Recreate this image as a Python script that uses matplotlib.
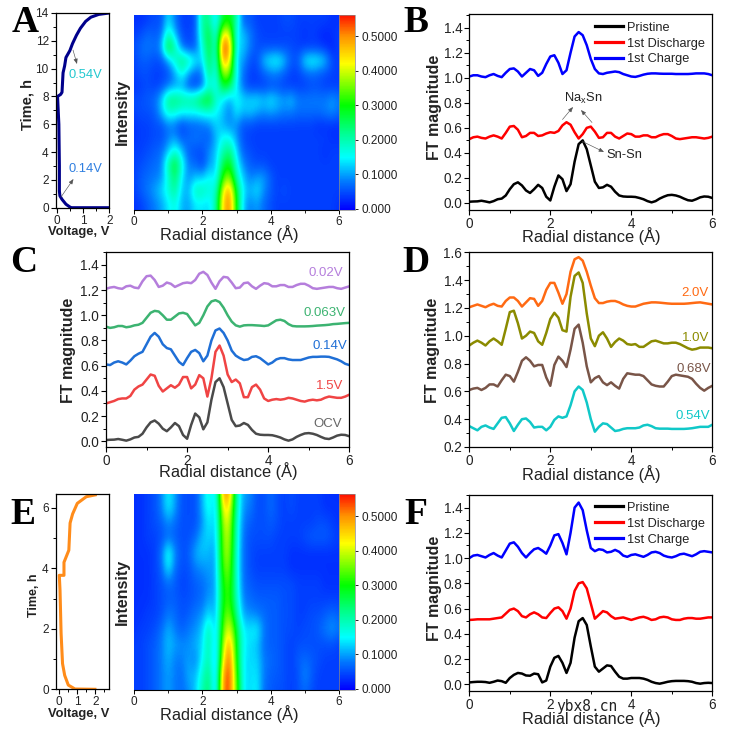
import matplotlib
matplotlib.use("Agg")
import matplotlib.pyplot as plt
import numpy as np
from matplotlib.colors import LinearSegmentedColormap, Normalize
from matplotlib.lines import Line2D
from matplotlib.ticker import MultipleLocator

plt.rcParams["font.family"] = ["Liberation Sans", "DejaVu Sans"]
plt.rcParams["mathtext.default"] = "regular"

W, H = 734, 736
TXT = "#222222"

# ---- data ----
r = [i / 10 for i in range(61)]

pristine_b = [.01,.012,.013,.018,.012,.005,.015,.03,.035,.06,.11,.15,.165,.14,.10,.08,.11,.145,.12,.05,.02,.13,.22,.19,.095,.15,.33,.47,.50,.43,.30,.17,.12,.125,.145,.13,.09,.06,.052,.05,.05,.048,.04,.03,.015,.005,.015,.035,.05,.062,.065,.06,.05,.035,.022,.018,.03,.045,.052,.05,.04]
discharge_b = [.51,.525,.53,.52,.515,.53,.54,.53,.515,.56,.61,.615,.585,.525,.535,.56,.56,.535,.54,.555,.565,.56,.575,.62,.645,.625,.565,.515,.55,.60,.61,.57,.52,.525,.56,.56,.53,.515,.535,.555,.55,.53,.53,.54,.54,.525,.525,.54,.55,.55,.535,.515,.51,.515,.52,.525,.525,.52,.515,.52,.53]
charge_b = [1.01,1.02,1.02,1.01,1.005,1.02,1.03,1.015,1.005,1.04,1.07,1.075,1.05,1.01,1.04,1.07,1.06,1.015,1.04,1.11,1.17,1.18,1.12,1.03,1.06,1.2,1.33,1.365,1.34,1.26,1.15,1.07,1.035,1.03,1.04,1.045,1.05,1.045,1.03,1.02,1.01,1.007,1.015,1.025,1.032,1.035,1.035,1.033,1.032,1.032,1.032,1.03,1.03,1.03,1.03,1.032,1.035,1.035,1.035,1.03,1.02]

ocv_c = pristine_b
v15_c = [.30,.31,.32,.335,.34,.34,.36,.41,.435,.45,.49,.53,.52,.44,.395,.42,.445,.425,.45,.51,.51,.42,.45,.525,.50,.355,.50,.71,.76,.68,.53,.47,.49,.46,.35,.35,.43,.45,.41,.34,.32,.33,.335,.33,.335,.345,.34,.33,.32,.315,.325,.33,.325,.33,.345,.355,.35,.345,.345,.355,.37]
v014_c = [.61,.605,.625,.635,.625,.61,.64,.675,.695,.71,.77,.83,.86,.83,.77,.74,.73,.68,.63,.605,.66,.71,.725,.70,.635,.68,.80,.88,.895,.86,.80,.72,.68,.66,.645,.65,.67,.675,.66,.635,.61,.625,.65,.66,.66,.65,.645,.645,.645,.655,.665,.67,.67,.672,.672,.67,.66,.65,.635,.615,.605]
v0063_c = [.91,.90,.905,.915,.915,.905,.91,.92,.925,.94,.98,1.02,1.035,1.03,1.0,.965,.965,.99,1.015,1.02,1.01,.965,.92,.94,1.0,1.07,1.11,1.12,1.105,1.06,1.0,.95,.92,.91,.92,.922,.922,.92,.918,.915,.92,.94,.96,.965,.955,.93,.915,.912,.912,.912,.913,.915,.918,.92,.922,.925,.93,.932,.935,.938,.94]
v002_c = [1.21,1.22,1.225,1.215,1.21,1.23,1.235,1.22,1.215,1.27,1.31,1.315,1.28,1.225,1.235,1.26,1.25,1.225,1.24,1.255,1.26,1.255,1.28,1.33,1.345,1.32,1.26,1.21,1.27,1.305,1.30,1.26,1.215,1.22,1.255,1.26,1.23,1.21,1.235,1.255,1.25,1.23,1.23,1.24,1.24,1.225,1.225,1.24,1.25,1.25,1.235,1.215,1.21,1.215,1.22,1.225,1.225,1.215,1.21,1.22,1.23]

v054_d = [.35,.335,.32,.345,.355,.34,.33,.37,.41,.415,.37,.315,.36,.40,.405,.38,.34,.345,.345,.32,.345,.395,.42,.41,.42,.50,.60,.635,.61,.52,.40,.31,.345,.37,.365,.34,.315,.32,.33,.335,.335,.335,.34,.355,.36,.35,.335,.332,.332,.332,.33,.33,.33,.33,.332,.335,.34,.345,.345,.345,.36]
v068_d = [.61,.62,.625,.61,.625,.65,.65,.635,.68,.72,.71,.67,.74,.82,.845,.82,.78,.79,.79,.70,.64,.79,.85,.82,.775,.90,1.05,1.08,.95,.78,.665,.695,.71,.665,.645,.665,.64,.62,.69,.73,.725,.72,.72,.71,.68,.65,.64,.635,.635,.67,.71,.72,.715,.71,.705,.69,.655,.625,.605,.625,.64]
v10_d = [.93,.95,.965,.95,.93,.96,.98,.96,.935,1.05,1.17,1.18,1.09,.98,1.0,1.03,1.02,.96,.935,1.02,1.12,1.165,1.13,1.04,1.03,1.28,1.43,1.455,1.38,1.16,.98,.925,1.0,1.025,.98,.92,.955,.98,.965,.94,.935,.94,.92,.92,.94,.96,.965,.955,.945,.945,.95,.95,.94,.925,.91,.90,.905,.915,.915,.915,.91]
v20_d = [1.205,1.215,1.225,1.215,1.205,1.22,1.23,1.215,1.21,1.25,1.275,1.275,1.25,1.21,1.24,1.27,1.265,1.215,1.25,1.33,1.38,1.38,1.31,1.23,1.30,1.46,1.55,1.565,1.54,1.46,1.36,1.27,1.235,1.235,1.245,1.25,1.25,1.24,1.225,1.215,1.21,1.21,1.22,1.23,1.235,1.24,1.24,1.238,1.235,1.232,1.23,1.23,1.23,1.23,1.232,1.235,1.238,1.24,1.235,1.23,1.225]

pristine_f = [.015,.018,.02,.02,.018,.012,.02,.03,.025,.012,.05,.075,.09,.085,.07,.068,.085,.08,.015,.03,.14,.21,.225,.17,.09,.17,.37,.50,.525,.47,.30,.14,.10,.125,.15,.145,.10,.06,.045,.045,.05,.05,.05,.045,.035,.02,.01,.005,.012,.02,.025,.027,.027,.027,.025,.02,.01,.005,.01,.012,.01]
discharge_f = [.51,.512,.515,.515,.515,.515,.52,.525,.53,.56,.59,.60,.58,.54,.53,.555,.57,.555,.53,.525,.565,.60,.61,.58,.52,.60,.74,.80,.81,.76,.64,.52,.55,.58,.57,.54,.52,.525,.53,.52,.51,.52,.53,.535,.525,.51,.515,.53,.535,.53,.515,.51,.51,.52,.525,.525,.52,.52,.525,.53,.53]
charge_f = [1.0,1.02,1.025,1.015,1.005,1.025,1.04,1.02,1.005,1.06,1.115,1.125,1.09,1.04,1.005,1.04,1.07,1.08,1.06,1.035,1.10,1.18,1.19,1.12,1.03,1.20,1.40,1.44,1.38,1.22,1.08,1.055,1.07,1.065,1.045,1.05,1.065,1.05,1.02,1.01,1.025,1.03,1.02,1.01,1.025,1.045,1.05,1.04,1.02,1.01,1.005,1.015,1.03,1.035,1.025,1.015,1.03,1.05,1.055,1.05,1.045]

volt_a = [2.0,0.55,0.5,0.35,0.2,0.12,0.1,0.1,0.08,0.03,0.15,0.2,0.22,0.24,0.3,0.35,0.5,0.6,0.75,0.9,1.1,1.3,1.6,2.0]
time_a = [0.0,0.0,0.05,0.25,0.6,0.85,1.2,3.0,6.0,8.0,8.15,8.3,9.0,9.7,10.2,10.8,11.3,11.8,12.4,12.9,13.4,13.7,13.9,14.0]
volt_e = [1.98,0.87,0.5,0.3,0.18,0.1,0.04,0.0,0.26,0.26,0.53,0.6,0.74,1.0,1.5,2.0]
time_e = [0.0,0.01,0.14,0.46,0.85,1.85,3.28,3.77,3.77,4.2,4.6,5.5,5.8,6.15,6.37,6.43]

heat_r = [i * 0.2 for i in range(31)]
heat_a_t = list(range(14, -1, -1))
heat_a = [
    # r: 0   .2   .4   .6   .8   1.0  1.2  1.4  1.6  1.8  2.0  2.2  2.4  2.6  2.8  3.0  3.2  3.4  3.6  3.8  4.0  4.2  4.4  4.6  4.8  5.0  5.2  5.4  5.6  5.8  6.0
    [.03,.03,.04,.05,.05,.14,.08,.04,.04,.05,.22,.22,.12,.28,.30,.20,.06,.06,.04,.04,.04,.04,.05,.05,.04,.04,.04,.04,.04,.03,.03],
    [.04,.05,.07,.06,.07,.20,.12,.05,.04,.06,.20,.28,.14,.45,.42,.14,.12,.08,.05,.04,.04,.04,.04,.04,.04,.03,.04,.03,.02,.03,.04],
    [.05,.07,.08,.07,.10,.30,.20,.08,.05,.06,.16,.28,.15,.56,.50,.14,.12,.08,.05,.05,.05,.05,.05,.05,.04,.04,.04,.04,.03,.02,.04],
    [.04,.06,.06,.05,.05,.10,.18,.24,.20,.15,.12,.27,.14,.50,.45,.12,.10,.05,.05,.12,.15,.16,.12,.06,.06,.14,.16,.15,.12,.05,.04],
    [.04,.05,.05,.04,.04,.05,.10,.17,.10,.06,.08,.24,.14,.38,.36,.15,.07,.04,.04,.06,.08,.08,.06,.04,.04,.06,.07,.06,.05,.04,.04],
    [.03,.04,.05,.04,.05,.08,.10,.10,.05,.04,.07,.17,.14,.28,.25,.14,.07,.04,.04,.04,.05,.05,.04,.04,.04,.04,.05,.05,.04,.04,.04],
    [.05,.05,.06,.07,.12,.23,.24,.22,.22,.23,.28,.30,.18,.14,.10,.16,.13,.13,.14,.12,.14,.12,.10,.12,.08,.08,.08,.08,.08,.10,.08],
    [.04,.05,.05,.06,.11,.18,.17,.15,.15,.15,.16,.17,.15,.12,.08,.14,.11,.12,.10,.09,.10,.09,.08,.08,.07,.07,.07,.07,.08,.09,.07],
    [.03,.04,.04,.05,.05,.08,.07,.04,.06,.06,.07,.08,.13,.11,.09,.09,.05,.05,.04,.04,.04,.04,.04,.04,.04,.04,.04,.03,.03,.03,.03],
    [.03,.04,.04,.05,.05,.08,.10,.06,.07,.08,.07,.06,.11,.16,.16,.10,.05,.04,.04,.04,.04,.04,.04,.04,.04,.04,.04,.04,.04,.03,.03],
    [.04,.04,.05,.06,.07,.12,.18,.12,.06,.05,.05,.09,.12,.20,.24,.13,.06,.05,.04,.04,.04,.04,.04,.04,.04,.04,.04,.04,.03,.04,.04],
    [.04,.05,.06,.07,.08,.20,.29,.17,.08,.07,.04,.10,.12,.26,.30,.16,.09,.06,.05,.05,.04,.04,.04,.04,.04,.04,.04,.04,.04,.04,.04],
    [.04,.06,.07,.08,.09,.17,.25,.14,.09,.12,.12,.16,.13,.32,.38,.20,.12,.08,.10,.10,.06,.04,.04,.04,.04,.04,.04,.04,.04,.04,.04],
    [.04,.06,.08,.10,.13,.17,.22,.12,.11,.20,.20,.17,.17,.42,.50,.27,.14,.11,.14,.09,.06,.04,.05,.04,.04,.04,.04,.04,.04,.04,.04],
    [.03,.04,.06,.08,.10,.14,.17,.11,.10,.14,.14,.13,.20,.45,.52,.30,.12,.08,.10,.07,.05,.04,.04,.04,.04,.04,.04,.04,.04,.04,.03],
]
heat_e_t = [6.5 - 0.5 * i for i in range(14)]
heat_e = [
    # r: 0   .2   .4   .6   .8   1.0  1.2  1.4  1.6  1.8  2.0  2.2  2.4  2.6  2.8  3.0  3.2  3.4  3.6  3.8  4.0  4.2  4.4  4.6  4.8  5.0  5.2  5.4  5.6  5.8  6.0
    [.03,.03,.04,.05,.08,.15,.10,.05,.05,.05,.11,.18,.11,.50,.50,.20,.10,.09,.05,.05,.07,.05,.04,.05,.04,.04,.04,.04,.03,.03,.03],
    [.03,.03,.04,.05,.08,.15,.10,.05,.05,.05,.11,.17,.11,.44,.44,.20,.09,.08,.05,.05,.07,.05,.04,.05,.04,.04,.04,.04,.03,.03,.03],
    [.03,.03,.04,.05,.06,.09,.07,.05,.05,.05,.09,.15,.11,.39,.41,.18,.08,.06,.05,.05,.06,.05,.04,.04,.04,.04,.04,.05,.05,.04,.03],
    [.03,.03,.04,.04,.05,.07,.06,.05,.05,.07,.12,.13,.11,.37,.39,.18,.07,.05,.05,.05,.05,.04,.04,.04,.04,.05,.06,.06,.06,.05,.04],
    [.03,.03,.03,.04,.07,.18,.09,.05,.06,.11,.12,.11,.10,.36,.38,.17,.07,.05,.04,.04,.04,.04,.04,.03,.03,.03,.03,.03,.03,.03,.03],
    [.03,.03,.03,.04,.06,.15,.07,.05,.05,.08,.09,.10,.10,.34,.36,.17,.07,.05,.04,.04,.04,.04,.04,.03,.03,.03,.03,.03,.03,.03,.03],
    [.03,.03,.03,.04,.05,.07,.06,.04,.05,.06,.07,.09,.10,.31,.34,.18,.07,.06,.05,.05,.05,.05,.05,.05,.04,.04,.04,.04,.03,.03,.03],
    [.03,.03,.03,.04,.05,.06,.06,.05,.05,.06,.07,.10,.10,.30,.33,.19,.08,.07,.06,.06,.06,.06,.05,.05,.04,.04,.04,.04,.04,.04,.04],
    [.03,.03,.04,.04,.05,.08,.07,.05,.06,.08,.09,.14,.10,.32,.36,.22,.10,.09,.08,.07,.06,.06,.05,.05,.04,.04,.05,.05,.06,.07,.06],
    [.03,.04,.04,.05,.07,.11,.08,.06,.08,.09,.12,.21,.10,.34,.43,.27,.14,.14,.15,.08,.06,.06,.05,.05,.04,.05,.05,.06,.08,.10,.08],
    [.04,.04,.05,.06,.08,.12,.10,.09,.09,.11,.13,.22,.09,.38,.50,.29,.15,.13,.12,.07,.06,.06,.05,.04,.05,.05,.05,.05,.05,.05,.04],
    [.04,.04,.05,.06,.08,.11,.08,.08,.10,.08,.15,.21,.08,.42,.54,.30,.14,.13,.13,.08,.07,.06,.05,.04,.06,.07,.06,.05,.04,.04,.04],
    [.04,.04,.05,.06,.08,.10,.08,.07,.11,.11,.18,.24,.08,.50,.55,.33,.14,.13,.14,.08,.06,.06,.05,.04,.05,.09,.06,.04,.04,.04,.04],
    [.04,.04,.05,.06,.08,.10,.08,.07,.09,.12,.20,.25,.08,.52,.54,.35,.14,.13,.15,.07,.06,.05,.05,.04,.05,.07,.05,.04,.04,.04,.04],
]

bar_ticks = [0.0, 0.1, 0.2, 0.3, 0.4, 0.5]
bar_labels = ["0.000", "0.1000", "0.2000", "0.3000", "0.4000", "0.5000"]

heat_cmap = LinearSegmentedColormap.from_list(
    "eh",
    [(0.0, "#0000ff"), (0.08 / 0.56, "#0078ff"), (0.15 / 0.56, "#00ffff"),
     (0.22 / 0.56, "#00ff90"), (0.30 / 0.56, "#00ff00"), (0.42 / 0.56, "#ffff00"),
     (0.50 / 0.56, "#ff9000"), (1.0, "#ff1000")],
)


def add_ax(fig, left, top, right, bottom):
    """Axes placed with pixel edges of the reference (y counted from the top)."""
    return fig.add_axes([left / W, 1 - bottom / H, (right - left) / W, (bottom - top) / H])


def px(x, y):
    return x / W, 1 - y / H


def put(fig, x, y, s, **kw):
    kw.setdefault("ha", "center")
    kw.setdefault("va", "center")
    kw.setdefault("color", TXT)
    fig.text(*px(x, y), s, **kw)


def arrow(ax, tip, tail):
    ax.annotate("", xy=px(*tip), xytext=px(*tail), xycoords="figure fraction",
                textcoords="figure fraction",
                arrowprops=dict(arrowstyle="-|>,head_width=0.12,head_length=0.3",
                                color="#555555", lw=0.45, shrinkA=0, shrinkB=0))


def style_ax(ax, xmaj, xmin, ymaj, ymin, size=9.5):
    ax.xaxis.set_major_locator(MultipleLocator(xmaj))
    ax.xaxis.set_minor_locator(MultipleLocator(xmin))
    ax.yaxis.set_major_locator(MultipleLocator(ymaj))
    ax.yaxis.set_minor_locator(MultipleLocator(ymin))
    ax.tick_params(which="major", length=3.5, width=0.8, labelsize=size, pad=1.5, labelcolor=TXT)
    ax.tick_params(which="minor", length=2, width=0.7)
    for s in ax.spines.values():
        s.set_linewidth(0.9)


def ft_panel(fig, box, curves, ylim, ymaj=0.2):
    ax = add_ax(fig, *box)
    for vals, col in curves:
        ax.plot(r, vals, color=col, lw=1.8, solid_joinstyle="round")
    ax.set_xlim(0, 6)
    ax.set_ylim(*ylim)
    style_ax(ax, 2, 1, ymaj, ymaj / 2, size=9.8)
    ax.yaxis.set_major_formatter(lambda v, _: f"{v:.1f}")
    return ax


def heat_panel(fig, box, bar_box, grid, tvals):
    ax = add_ax(fig, *box)
    norm = Normalize(-0.003, 0.563)
    step_t = abs(tvals[0] - tvals[1])
    im = ax.imshow(grid, cmap=heat_cmap, norm=norm, aspect="auto", interpolation="bicubic",
                   extent=[heat_r[0] - 0.1, heat_r[-1] + 0.1,
                           tvals[-1] - step_t / 2, tvals[0] + step_t / 2])
    ax.set_xlim(0, 6)
    ax.set_yticks([])
    ax.set_xticks([0, 2, 4, 6])
    ax.xaxis.set_minor_locator(MultipleLocator(1))
    ax.tick_params(which="major", length=3, width=0.7, labelsize=8.5, pad=1.5, labelcolor=TXT)
    ax.tick_params(which="minor", length=1.8, width=0.6)
    for s in ax.spines.values():
        s.set_visible(False)
    ax.spines["bottom"].set_visible(True)
    cax = add_ax(fig, *bar_box)
    cb = fig.colorbar(im, cax=cax, ticks=bar_ticks)
    cb.ax.set_yticklabels(bar_labels)
    cb.ax.tick_params(length=2.5, width=0.6, labelsize=8.5, pad=2, labelcolor=TXT)
    cb.outline.set_linewidth(0.5)
    cb.outline.set_edgecolor("#888888")
    return ax


def legend_abc(ax, top):
    handles = [Line2D([], [], color=c, lw=2.3) for c in ("black", "#ff0000", "#0000ff")]
    ax.legend(handles, ["Pristine", "1st Discharge", "1st Charge"], frameon=False, fontsize=9.2,
              loc="upper left", bbox_to_anchor=(0.508, top), handlelength=2.15, handletextpad=0.35,
              labelspacing=0.3, borderpad=0.2, borderaxespad=0, labelcolor=TXT)


fig = plt.figure(figsize=(W / 100, H / 100), dpi=100)

# A
ax_a = add_ax(fig, 55.7, 13, 109.3, 207.7)
ax_a.plot(volt_a, time_a, color="#00008b", lw=2.2, solid_joinstyle="round")
ax_a.set_xlim(-0.04, 2.0)
ax_a.set_ylim(0, 14)
style_ax(ax_a, 1, 0.5, 2, 1, size=8.5)
arrow(ax_a, (77, 64), (73, 50))
arrow(ax_a, (73.5, 179), (61, 197))
put(fig, 85, 74.5, "0.54V", color="#22c8d0", fontsize=9.3)
put(fig, 85, 169, "0.14V", color="#2f7fe0", fontsize=9.3)
put(fig, 79, 231.5, "Voltage, V", fontweight="bold", fontsize=9.3)
put(fig, 28, 105, "Time, h", fontweight="bold", fontsize=10.5, rotation=90)

# heat map A
heat_panel(fig, (134, 15, 339, 210), (339, 14.5, 355, 210), heat_a, heat_a_t)
put(fig, 122, 112, "Intensity", fontweight="bold", fontsize=11.5, rotation=90)
put(fig, 229, 234, "Radial distance (Å)", fontsize=11.8)

# B
ax_b = ft_panel(fig, (469.3, 14.3, 712.3, 210),
                [(pristine_b, "black"), (discharge_b, "#ff0000"), (charge_b, "#0000ff")], (-0.056, 1.507))
legend_abc(ax_b, 0.975)
put(fig, 583.5, 98, "Na$_{x}$Sn", fontsize=9.3)
put(fig, 624.5, 155, "Sn-Sn", fontsize=9.3)
arrow(ax_b, (573, 107), (562.5, 119.5))
arrow(ax_b, (581, 110), (592, 122.5))
arrow(ax_b, (604, 152), (582.5, 141.5))
put(fig, 591, 236, "Radial distance (Å)", fontsize=11.8)
put(fig, 435, 107, "FT magnitude", fontweight="bold", fontsize=11.5, rotation=90)

# C
ft_panel(fig, (106, 252.3, 349.3, 446.7),
         [(ocv_c, "#4a4a4a"), (v15_c, "#f04444"), (v014_c, "#1f6fd6"), (v0063_c, "#3cb371"), (v002_c, "#b57edc")],
         (-0.043, 1.5))
for x, y, s, c in [(326, 273, "0.02V", "#b57edc"), (325, 313, "0.063V", "#3cb371"), (330, 346, "0.14V", "#1f6fd6"),
                   (330, 386, "1.5V", "#f04444"), (328, 424, "OCV", "#666666")]:
    put(fig, x, y, s, color=c, fontsize=9.5)
put(fig, 228, 471.5, "Radial distance (Å)", fontsize=11.8)
put(fig, 68, 350, "FT magnitude", fontweight="bold", fontsize=11.5, rotation=90)

# D
ft_panel(fig, (469.3, 252.3, 712.3, 447),
         [(v054_d, "#10c8c8"), (v068_d, "#795548"), (v10_d, "#8b8b00"), (v20_d, "#ff6a13")], (0.2, 1.6))
for x, y, s, c in [(695, 293, "2.0V", "#ff6a13"), (696, 338, "1.0V", "#8b8b00"), (694, 369, "0.68V", "#795548"),
                   (693, 416, "0.54V", "#10c8c8")]:
    put(fig, x, y, s, color=c, fontsize=9.5)
put(fig, 591, 474, "Radial distance (Å)", fontsize=11.8)
put(fig, 432, 350, "FT magnitude", fontweight="bold", fontsize=11.5, rotation=90)

# E
ax_e = add_ax(fig, 55.7, 494.3, 109.3, 689.3)
ax_e.plot(volt_e, time_e, color="#ff8c1a", lw=2.2, solid_joinstyle="round")
ax_e.set_xlim(-0.2, 2.78)
ax_e.set_ylim(0, 6.45)
style_ax(ax_e, 1, 0.5, 2, 1, size=8.5)
put(fig, 79, 713.5, "Voltage, V", fontweight="bold", fontsize=9.3)
put(fig, 34, 595, "Time, h", fontweight="bold", fontsize=9, rotation=90)

# heat map E
ax_he = heat_panel(fig, (134, 494.3, 339, 690), (339, 494.3, 355, 690), heat_e, heat_e_t)
ax_he.set_ylim(0, 6.44)
put(fig, 122, 592, "Intensity", fontweight="bold", fontsize=11.5, rotation=90)
put(fig, 229, 714, "Radial distance (Å)", fontsize=11.8)

# F
ax_f = ft_panel(fig, (469.3, 495, 712.3, 691),
                [(pristine_f, "black"), (discharge_f, "#ff0000"), (charge_f, "#0000ff")], (-0.053, 1.5))
legend_abc(ax_f, 0.978)
put(fig, 591, 718, "Radial distance (Å)", fontsize=11.8)
put(fig, 435, 588, "FT magnitude", fontweight="bold", fontsize=11.5, rotation=90)
put(fig, 587, 706, "ybx8.cn", family="DejaVu Sans Mono", fontsize=10.5, color="#222222", zorder=10)

# panel letters
for x, y, s in [(25, 23, "A"), (416, 23, "B"), (24, 263, "C"), (416, 263, "D"), (23, 515, "E"), (416, 514, "F")]:
    put(fig, x, y, s, family="Liberation Serif", fontweight="bold", fontsize=27, color="black")

fig.savefig("out.png", dpi=100)
